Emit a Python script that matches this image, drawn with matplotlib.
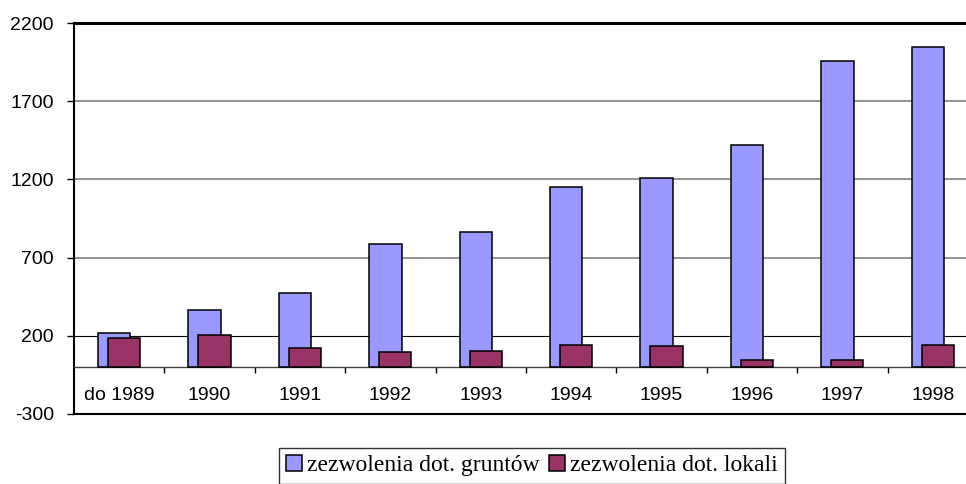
import matplotlib
matplotlib.use("Agg")
import matplotlib.pyplot as plt
import numpy as np

categories = ["do 1989", "1990", "1991", "1992", "1993", "1994", "1995", "1996", "1997", "1998"]
grunty = [215, 364, 475, 786, 863, 1151, 1208, 1419, 1958, 2048]
lokale = [183, 205, 123, 94, 104, 143, 132, 43, 43, 143]
series_names = ["zezwolenia dot. gruntów", "zezwolenia dot. lokali"]
yticks = [-300, 200, 700, 1200, 1700, 2200]

fig = plt.figure(figsize=(9.66, 4.84), dpi=100)
L, R, B, T = 73.9, 978.0, 414.0, 23.0
W, H = 966.0, 484.0
ax = fig.add_axes([L / W, 1 - B / H, (R - L) / W, (B - T) / H])

x = np.arange(len(categories))
bw = 0.357
off = 0.055
ax.bar(x - off, grunty, bw, color="#9999FF", edgecolor="black", linewidth=1.1, zorder=3, label=series_names[0])
ax.bar(x + off, lokale, bw, color="#993366", edgecolor="black", linewidth=1.1, zorder=4, label=series_names[1])

ax.set_xlim(-0.5, len(categories) - 0.5)
ax.set_ylim(yticks[0], yticks[-1])

# gridlines
for yv in yticks[1:-1]:
    if yv == 200:
        ax.axhline(yv, color="black", lw=0.8, zorder=1)
    else:
        ax.axhline(yv, color="#808080", lw=1.2, zorder=1)
ax.axhline(yticks[-1], color="black", lw=2.2, zorder=2, clip_on=False)
ax.axhline(yticks[0], color="black", lw=1.5, zorder=2, clip_on=False)

for s in ["top", "right"]:
    ax.spines[s].set_visible(False)
ax.spines["left"].set_linewidth(1.5)
ax.spines["bottom"].set_position(("data", 0))
ax.spines["bottom"].set_linewidth(1.0)
ax.spines["bottom"].set_color("#404040")

ax.set_yticks(yticks)
ax.set_yticklabels([str(v) for v in yticks])
ax.tick_params(axis="y", direction="out", length=5, width=1, pad=9.5, labelsize=14)

ax.set_xticks(x[:-1] + 0.5)
ax.set_xticklabels([])
ax.tick_params(axis="x", which="major", direction="out", length=4.5, width=1)
ax.set_xticks(x, minor=True)
ax.set_xticklabels(categories, minor=True)
ax.tick_params(axis="x", which="minor", length=0, pad=14, labelsize=14)

for lbl in ax.get_xticklabels(minor=True) + ax.get_yticklabels():
    lbl.set_fontfamily("Liberation Sans")

leg = fig.legend(loc="upper center", bbox_to_anchor=(532 / W, 1 - 448 / H), ncol=2,
                 prop={"family": "Liberation Serif", "size": 17},
                 frameon=True, fancybox=False, edgecolor="black",
                 handlelength=0.68, handleheight=0.68, handletextpad=0.22,
                 columnspacing=0.38, borderpad=0.3, borderaxespad=0)
leg.get_frame().set_linewidth(1.0)

fig.savefig("out.png", dpi=100)
